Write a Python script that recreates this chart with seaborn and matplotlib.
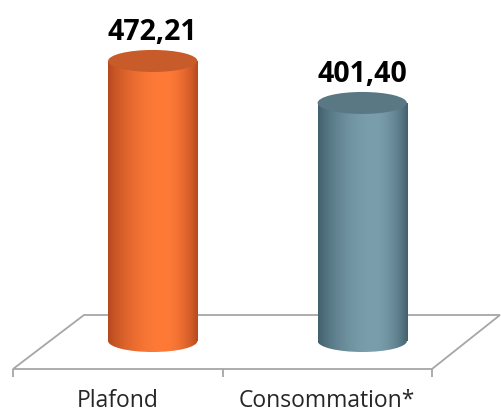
import numpy as np
import matplotlib
matplotlib.use("Agg")
import matplotlib.pyplot as plt
from matplotlib.patches import Ellipse, Polygon
import seaborn as sns

# ---- data ----
categories = ["Plafond", "Consommation*"]
values = [472.21, 401.40]
value_labels = ["472,21", "401,40"]

# ---- style ----
sns.set_style("white")
plt.rcParams['font.family'] = ['Open Sans', 'DejaVu Sans']

W, H = 501, 413
fig = plt.figure(figsize=(W / 100, H / 100), dpi=100)

# background axes in pixel coordinates for the 3D floor decoration
bg = fig.add_axes([0, 0, 1, 1], zorder=0)
bg.set_xlim(0, W)
bg.set_ylim(H, 0)
bg.axis("off")
floor = Polygon([(13, 369), (432, 369), (500, 315), (84, 315)], closed=True,
                facecolor="white", edgecolor="#A6A6A6", lw=1.3)
bg.add_patch(floor)

# main axes for cylinders
ymin, ymax = -50, 575
y0_px = 341.0               # pixel row of value 0
upp = ymax / y0_px           # units per pixel
bottom_px = y0_px + (-ymin) / upp
ax = fig.add_axes([48 / W, (H - bottom_px) / H, 419 / W, bottom_px / H], zorder=1)
ax.patch.set_alpha(0)

sns.barplot(x=categories, y=values, hue=categories, legend=False,
            width=0.426, ax=ax, palette=["#F26B2E", "#6A8E9C"])
ax.set_xlim(-0.5, 1.5)
ax.set_ylim(ymin, ymax)

# gradient helpers
def gradient(dark, light, n=256, peak=0.62):
    t = np.linspace(0, 1, n)
    u = np.where(t < peak, t / peak * 0.5, 0.5 + (t - peak) / (1 - peak) * 0.5)
    f = np.sin(np.pi * u) ** 0.8
    dark = np.array(dark) / 255
    light = np.array(light) / 255
    g = dark[None, :] + (light - dark)[None, :] * f[:, None]
    return g[None, :, :]

styles = [
    dict(dark=(180, 72, 30), light=(255, 122, 55), top="#C75B29"),
    dict(dark=(64, 94, 107), light=(122, 158, 172), top="#5A7884"),
]

eh_px = 22.0
eh = eh_px * upp

bars = sorted([p for p in ax.patches], key=lambda p: p.get_x())
for bar, st, lab in zip(bars, styles, value_labels):
    x = bar.get_x()
    w = bar.get_width()
    h = bar.get_height()
    xc = x + w / 2
    bar.set_facecolor("none")
    bar.set_edgecolor("none")
    g = gradient(st["dark"], st["light"])
    # bottom ellipse
    be = Ellipse((xc, 0), w, eh, facecolor="none", edgecolor="none")
    ax.add_patch(be)
    im = ax.imshow(g, extent=[x, x + w, -eh / 2, eh / 2], aspect="auto",
                   origin="lower", interpolation="bilinear", zorder=2)
    im.set_clip_path(be)
    # body
    im2 = ax.imshow(g, extent=[x, x + w, 0, h], aspect="auto",
                    origin="lower", interpolation="bilinear", zorder=3)
    im2.set_clip_path(bar)
    # top ellipse
    te = Ellipse((xc, h), w, eh, facecolor=st["top"], edgecolor="none", zorder=4)
    ax.add_patch(te)
    ax.annotate(lab, xy=(xc, h), xytext=(0, 21), textcoords="offset pixels",
                ha="center", va="baseline", fontsize=20.5, fontweight="bold",
                color="black", zorder=5)

ax.set_xlim(-0.5, 1.5)
ax.set_ylim(ymin, ymax)
ax.axis("off")

# category axis along the front edge of the floor
ax2 = fig.add_axes([13 / W, (H - 369) / H, 419 / W, 0.001], zorder=2)
ax2.patch.set_alpha(0)
ax2.set_xlim(-0.5, 1.5)
ax2.set_yticks([])
for s in ax2.spines.values():
    s.set_visible(False)
ax2.set_xticks([0, 1])
ax2.set_xticklabels(categories, fontsize=16.5, color="#262626")
ax2.set_xticks([-0.5, 0.5, 1.5], minor=True)
ax2.tick_params(axis="x", which="both", bottom=True)
ax2.tick_params(axis="x", which="major", length=0, pad=14.5)
ax2.tick_params(axis="x", which="minor", length=6, width=1.3, color="#A6A6A6")

fig.savefig("out.png", dpi=100)
